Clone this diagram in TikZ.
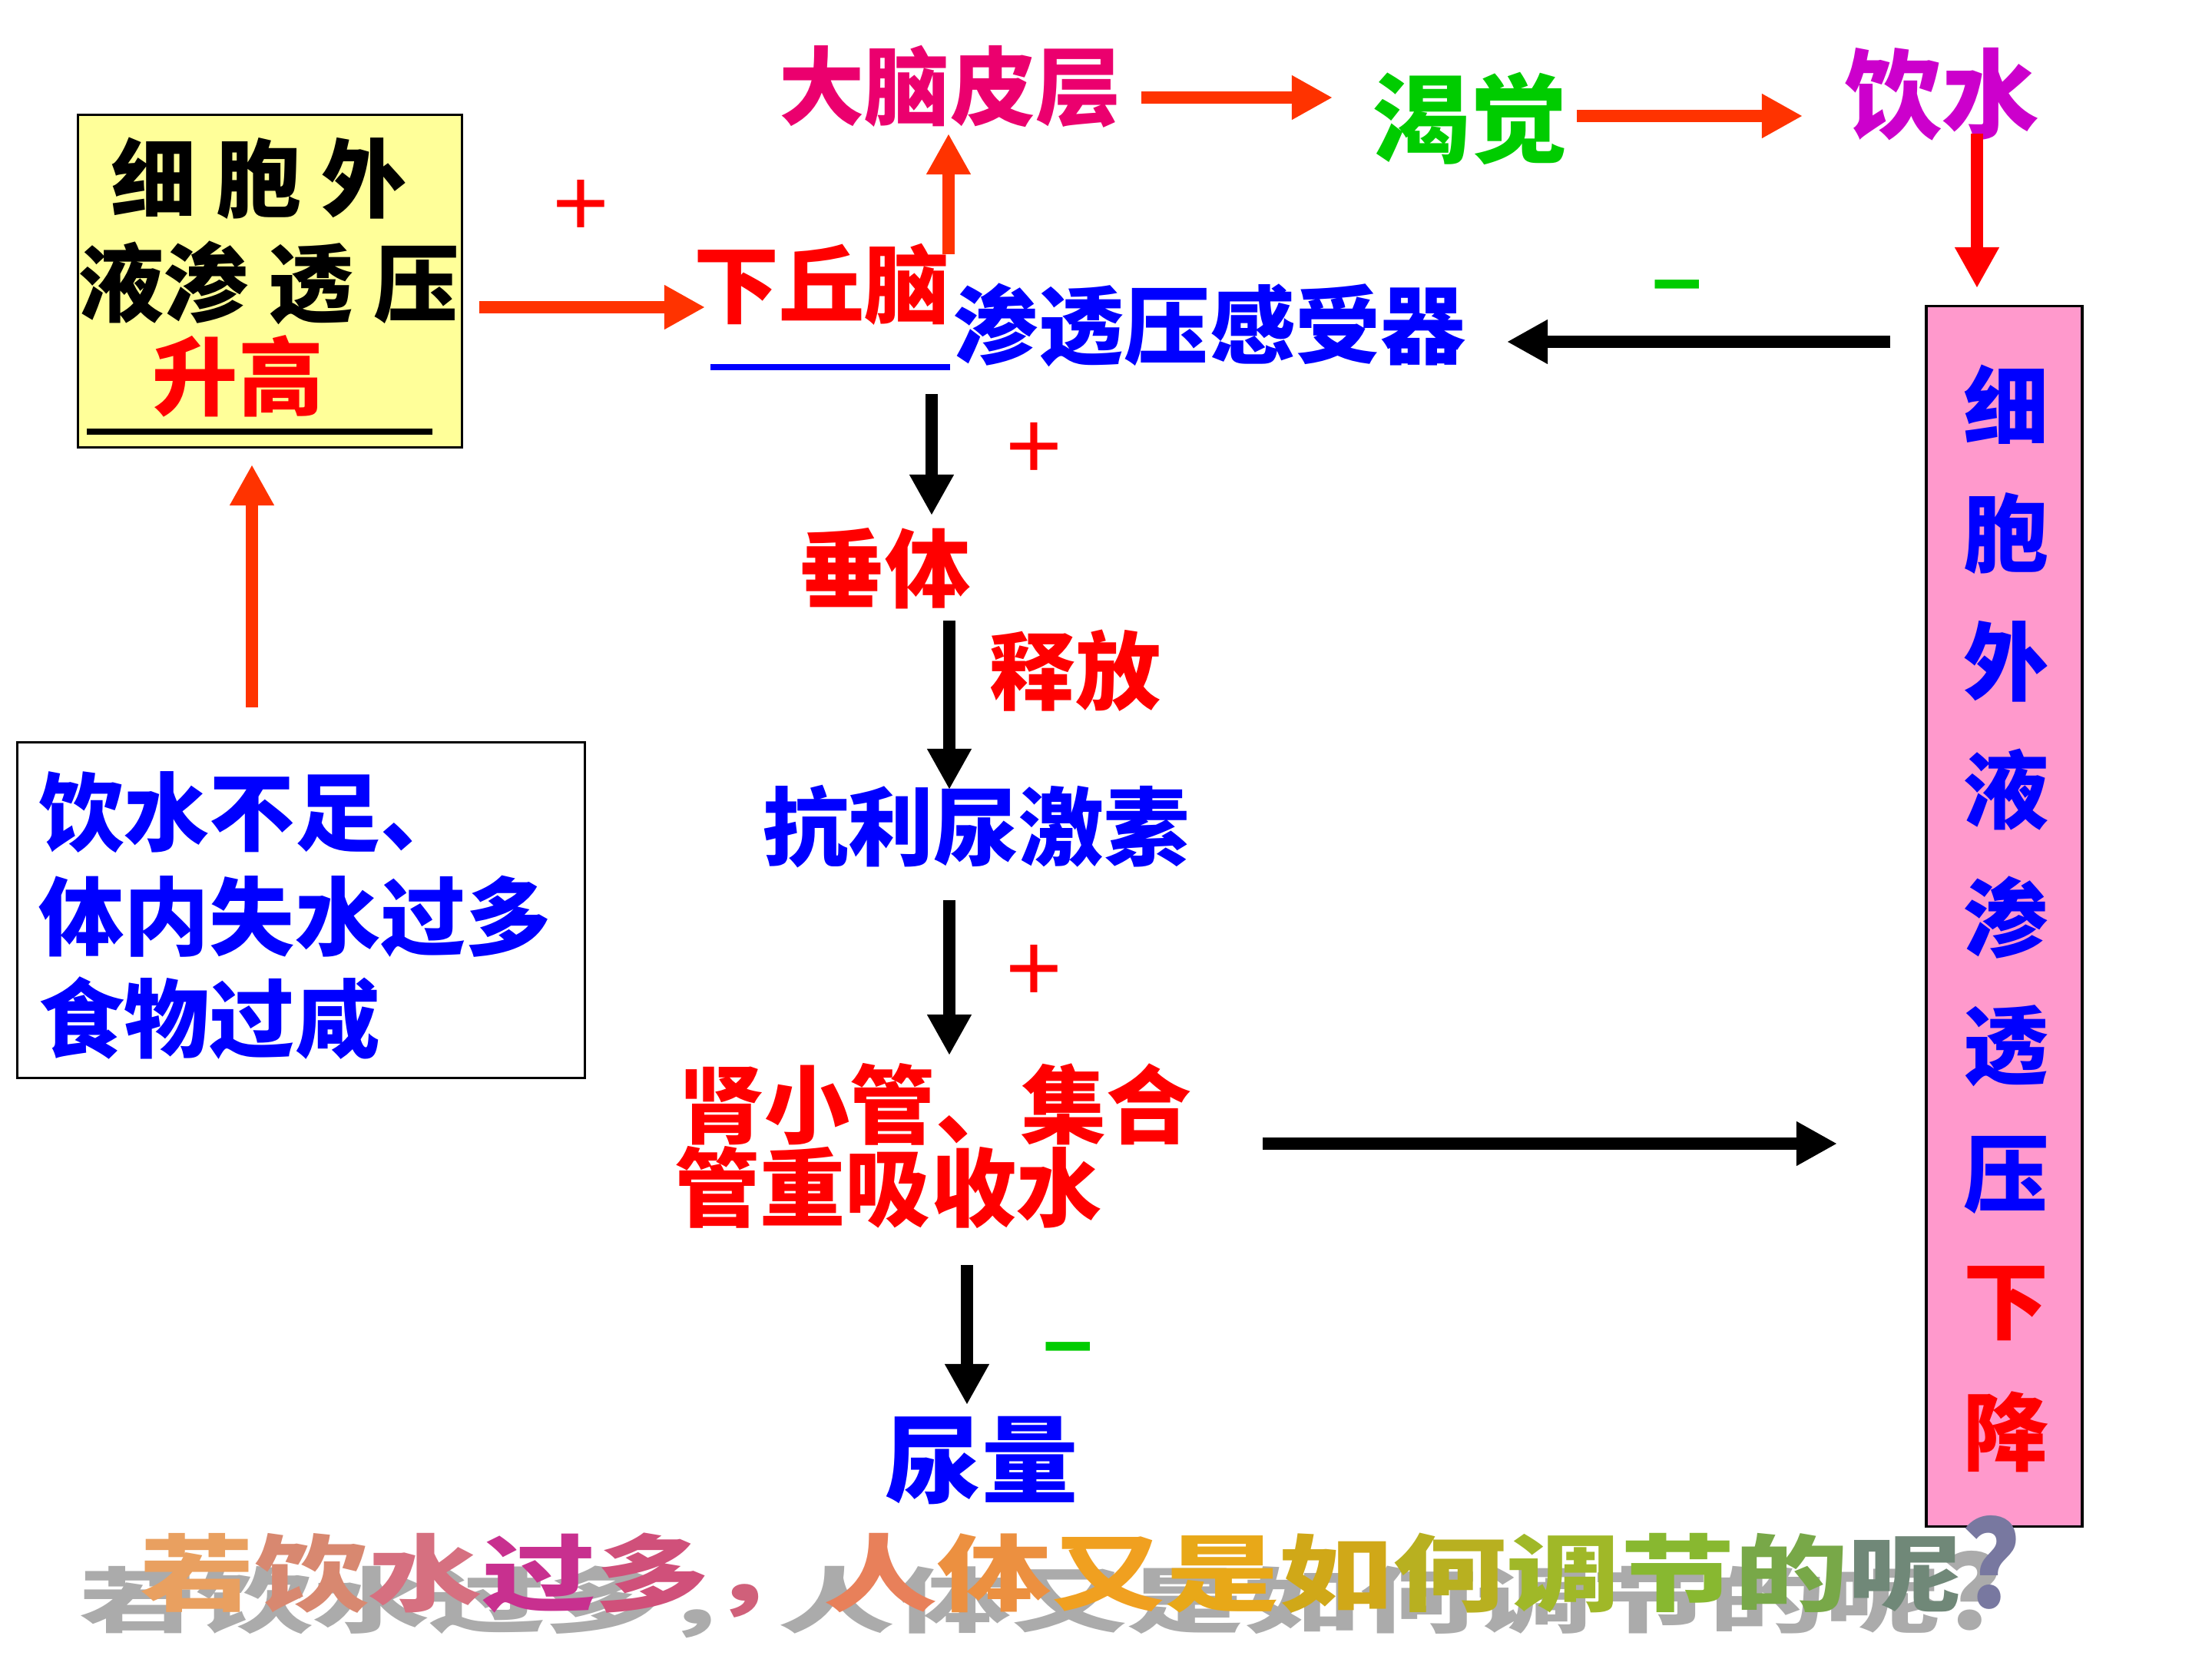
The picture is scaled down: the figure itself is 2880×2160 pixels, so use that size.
\documentclass[tikz,border=0pt]{standalone}
\usepackage{fontspec}
\setmainfont{Noto Sans CJK SC}
\newfontfamily\latin{Liberation Sans}
\usetikzlibrary{arrows.meta}
\definecolor{ored}{RGB}{255,51,0}
\definecolor{pred}{RGB}{255,0,0}
\definecolor{tblue}{RGB}{0,0,255}
\definecolor{tgreen}{RGB}{0,204,0}
\definecolor{tmag}{RGB}{204,0,204}
\definecolor{tpink}{RGB}{235,0,110}
\definecolor{yfill}{RGB}{255,255,153}
\definecolor{pfill}{RGB}{255,153,204}
\definecolor{w1}{RGB}{233,160,96}
\definecolor{w2}{RGB}{216,136,112}
\definecolor{w3}{RGB}{214,112,128}
\definecolor{w4}{RGB}{200,48,143}
\definecolor{w5}{RGB}{208,80,122}
\definecolor{w6}{RGB}{208,96,122}
\definecolor{w7}{RGB}{232,128,90}
\definecolor{w8}{RGB}{236,144,64}
\definecolor{w9}{RGB}{240,160,32}
\definecolor{w10}{RGB}{232,168,24}
\definecolor{w11}{RGB}{208,168,24}
\definecolor{w12}{RGB}{184,176,32}
\definecolor{w13}{RGB}{160,184,40}
\definecolor{w14}{RGB}{136,184,48}
\definecolor{w15}{RGB}{120,168,72}
\definecolor{w16}{RGB}{112,136,120}
\definecolor{w17}{RGB}{120,120,160}
\tikzset{
  txt/.style={inner sep=0pt, font=\fontsize{31.6}{36}\selectfont\bfseries},
  bigtxt/.style={inner sep=0pt, font=\fontsize{36}{40}\selectfont\bfseries},
  fat/.style={line width=4.8pt, -{Triangle[width=15.4pt,length=15.1pt]}},
  plussign/.style={inner sep=0pt, text=pred, font=\latin\fontsize{36}{40}\selectfont},
  minussign/.style={inner sep=0pt, text=tgreen, font=\latin\bfseries\fontsize{33}{40}\selectfont},
}
\begin{document}
\begin{tikzpicture}[x=0.01cm, y=-0.01cm]
\useasboundingbox (0,0) rectangle (2880,2160);
\fill[white] (0,0) rectangle (2880,2160);

% boxes
\node[draw, fill=yfill, line width=0.8pt, minimum width=4.99cm, minimum height=4.32cm, inner sep=0pt] (ybox) at (351.5,366) {};
\node[draw, fill=white, line width=0.8pt, minimum width=7.38cm, minimum height=4.36cm, inner sep=0pt] (cbox) at (392,1185) {};
\node[draw, fill=pfill, line width=1pt, minimum width=2.03cm, minimum height=15.88cm, inner sep=0pt] (pbox) at (2609.5,1193) {};

% yellow box text
\node[txt] (y1) at (337,232) {细 胞 外};
\node[txt] (y2) at (350,368) {液渗 透 压};
\node[txt, text=pred] (y3) at (310,490) {升高};
\draw[line width=2pt] ([shift={(-238.5,196)}]ybox.center) -- ([shift={(211.5,196)}]ybox.center);

% cause box text
\node[txt, text=tblue, anchor=west] (c1) at (50,1058) {饮水不足、};
\node[txt, text=tblue, anchor=west] (c2) at (50,1193) {体内失水过多};
\node[txt, text=tblue, anchor=west] (c3) at (50,1326) {食物过咸};

% pink box text
\node[txt, text=tblue] (k1) at (2612,527) {细};
\node[txt, text=tblue] (k2) at (2612,694) {胞};
\node[txt, text=tblue] (k3) at (2612,861) {外};
\node[txt, text=tblue] (k4) at (2612,1028) {液};
\node[txt, text=tblue] (k5) at (2612,1195) {渗};
\node[txt, text=tblue] (k6) at (2612,1362) {透};
\node[txt, text=tblue] (k7) at (2612,1530) {压};
\node[txt, text=pred] (k8) at (2612,1697) {下};
\node[txt, text=pred] (k9) at (2612,1864) {降};

% top row
\node[txt, text=tpink] (dnpc) at (1237,113) {大脑皮层};
\node[bigtxt, text=tgreen] (kj) at (1914,154) {渴觉};
\node[bigtxt, text=tmag] (ys) at (2528,123) {饮水};

% middle column
\node[txt, text=pred] (xqn) at (1070,370) {下丘脑};
\draw[tblue, line width=2.3pt] ([shift={(-145,108)}]xqn.center) -- ([shift={(167,108)}]xqn.center);
\node[txt, text=tblue] (stq) at (1575,423) {渗透压感受器};
\node[txt, text=pred] (ct) at (1152,740) {垂体};
\node[txt, text=pred] (sf) at (1400,873) {释放};
\node[txt, text=tblue] (kln) at (1271,1076) {抗利尿激素};
\node[txt, text=pred, anchor=west] (s1) at (884,1438) {肾小管、集合};
\node[txt, text=pred, anchor=west] (s2) at (878,1546) {管重吸收水};
\node[inner sep=0pt, font=\fontsize{35.6}{40}\selectfont\bfseries, text=tblue] (nl) at (1278,1902) {尿量};

% signs
\node[plussign] (pl1) at (756,271) {+};
\node[plussign] (pl2) at (1346,587) {+};
\node[plussign] (pl3) at (1346,1267) {+};
\node[minussign] (mi1) at (2184,383) {–};
\node[minussign] (mi2) at (1391,1766) {–};

% arrows
\draw[fat, ored] ([shift={(272.5,34)}]ybox.center) -- ([shift={(-152,30)}]xqn.center);
\draw[fat, ored] ([shift={(165,-39)}]xqn.center) -- ([shift={(-2,61)}]dnpc.center);
\draw[fat, ored] ([shift={(249,14)}]dnpc.center) -- ([shift={(-179,-27)}]kj.center);
\draw[fat, ored] ([shift={(139,-3)}]kj.center) -- ([shift={(-181,28)}]ys.center);
\draw[fat, pred] ([shift={(46,51)}]ys.center) -- ([shift={(-35.5,-818)}]pbox.center);
\draw[fat, black] ([shift={(-148.5,-748)}]pbox.center) -- ([shift={(387,22)}]stq.center);
\draw[fat, black] ([shift={(143,143)}]xqn.center) -- ([shift={(61,-69)}]ct.center);
\draw[fat, black] ([shift={(84,68)}]ct.center) -- ([shift={(-35,-48)}]kln.center);
\draw[fat, black] ([shift={(-35,96)}]kln.center) -- ([shift={(352,-64)}]s1.west);
\draw[fat, black] ([shift={(760,51)}]s1.west) -- ([shift={(-217.5,296)}]pbox.center);
\draw[fat, black] ([shift={(381,101)}]s2.west) -- ([shift={(-19,-73)}]nl.center);
\draw[fat, ored] ([shift={(-64,-264)}]cbox.center) -- ([shift={(-23.5,239)}]ybox.center);

% bottom word art
\node[inner sep=0pt, font=\fontsize{31}{36}\selectfont\bfseries, text=black!33] (qs) at (1392,2076)
  {\scalebox{1.39}[0.85]{若饮水过多，人体又是如何调节的呢\raisebox{-1pt}{\scalebox{1}[1.45]{？}}}};
\node[inner sep=0pt, font=\fontsize{31}{36}\selectfont\bfseries] (q) at (1443,2040)
  {\scalebox{1.36}[1]{\textcolor{w1}{若}\textcolor{w2}{饮}\textcolor{w3}{水}\textcolor{w4}{过}\textcolor{w5}{多}\textcolor{w6}{，}\textcolor{w7}{人}\textcolor{w8}{体}\textcolor{w9}{又}\textcolor{w10}{是}\textcolor{w11}{如}\textcolor{w12}{何}\textcolor{w13}{调}\textcolor{w14}{节}\textcolor{w15}{的}\textcolor{w16}{呢}\textcolor{w17}{\raisebox{-1pt}{\scalebox{1}[1.45]{？}}}}};
\end{tikzpicture}
\end{document}
